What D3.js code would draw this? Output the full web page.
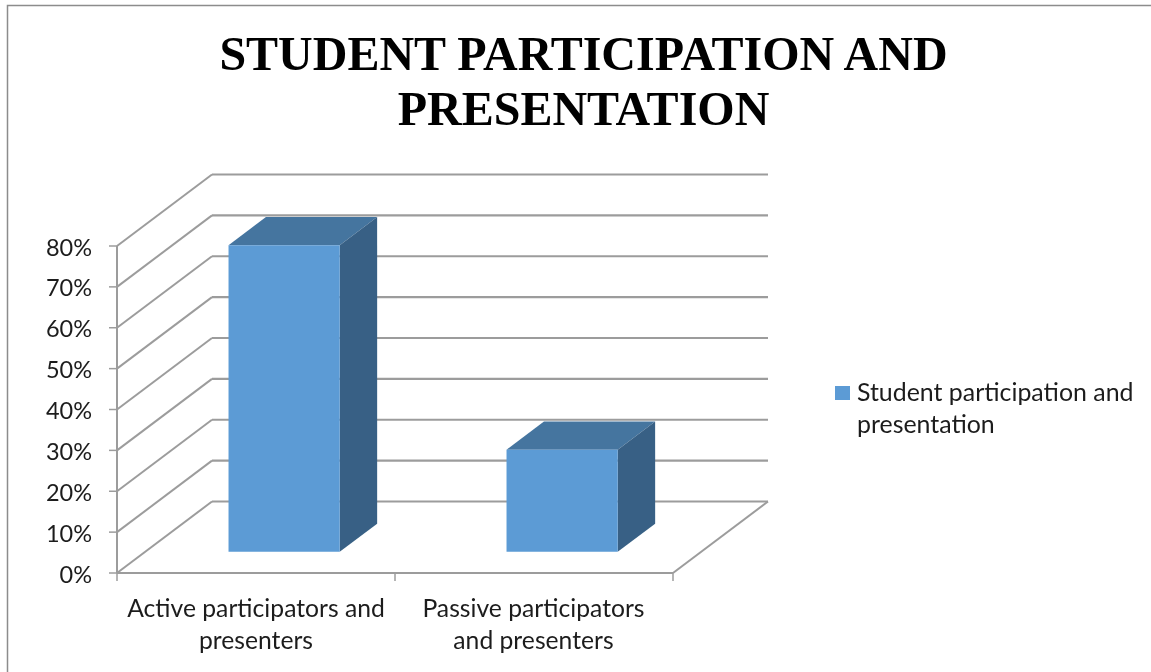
<!DOCTYPE html>
<html><head><meta charset="utf-8">
<script src="https://cdn.jsdelivr.net/npm/d3@7"></script>
<style>html,body{margin:0;background:#fff}svg{display:block}text{font-family:Lato,"Noto Sans",sans-serif;fill:#1c1c1c}</style>
</head><body><svg id="c" width="1151" height="672"></svg>
<script>
const categories=[["Active participators and","presenters"],["Passive participators","and presenters"]];
const values=[0.75,0.25];
const ticks=[0,0.1,0.2,0.3,0.4,0.5,0.6,0.7,0.8];
const titleLines=["STUDENT PARTICIPATION AND","PRESENTATION"];
const legendLines=["Student participation and","presentation"];
const svg=d3.select("#c");
const defs=svg.append("defs");
defs.append("filter").attr("id","soft").attr("x","-5%").attr("y","-5%").attr("width","110%").attr("height","110%")
  .append("feGaussianBlur").attr("stdDeviation",0.5);
const root=svg.append("g").attr("filter","url(#soft)");
const grid="#9c9c9c";
root.append("path").attr("d","M7.5,672V5.5H1151").attr("fill","none").attr("stroke","#8c8c8c").attr("stroke-width",1.5);
const x=d3.scaleBand().domain(d3.range(values.length)).range([117,673]).paddingInner(0.6).paddingOuter(0.3);
const step=x.step();
const y=d3.scaleLinear().domain([0,0.8]).range([573,246]);
const off=t=>[95*t,-71.5*t];
const P=(px,v,t)=>[px+off(t)[0],y(v)+off(t)[1]];
const line=d3.line();
ticks.forEach(t=>{
  root.append("path").attr("d",line([P(117,t,0),P(117,t,1)])).attr("fill","none").attr("stroke",grid).attr("stroke-width",2);
  root.append("path").attr("d",line([P(117,t,1),P(673,t,1)])).attr("fill","none").attr("stroke",grid).attr("stroke-width",2.2);
});
root.append("path").attr("d",line([P(673,0,0),P(673,0,1)])).attr("fill","none").attr("stroke",grid).attr("stroke-width",2);
root.append("path").attr("d",line([P(117,0,0),P(117,0.8,0)])).attr("fill","none").attr("stroke",grid).attr("stroke-width",2);
root.append("path").attr("d",line([P(117,0,0),P(673,0,0)])).attr("fill","none").attr("stroke",grid).attr("stroke-width",2.2);
ticks.forEach(t=>{
  root.append("line").attr("x1",109).attr("x2",117).attr("y1",y(t)).attr("y2",y(t)).attr("stroke",grid).attr("stroke-width",1.5);
  root.append("text").attr("x",92).attr("y",y(t)+9.5).attr("text-anchor","end").attr("font-size",23.5).text(d3.format(".0%")(t));
});
[0,1,2].forEach(i=>{
  const px=117+i*step;
  root.append("line").attr("x1",px).attr("x2",px).attr("y1",573).attr("y2",581).attr("stroke",grid).attr("stroke-width",1.5);
});
const d0=0.296,d1=0.69;
values.forEach((v,i)=>{
  const l=x(i),r=l+x.bandwidth();
  const g=root.append("g");
  g.append("path").attr("fill","#44749f").attr("d",line([P(l,v,d0),P(r,v,d0),P(r,v,d1),P(l,v,d1)])+"Z");
  g.append("path").attr("fill","#386185").attr("d",line([P(r,0,d0),P(r,v,d0),P(r,v,d1),P(r,0,d1)])+"Z");
  g.append("path").attr("fill","#5b9bd5").attr("d",line([P(l,0,d0),P(r,0,d0),P(r,v,d0),P(l,v,d0)])+"Z");
});
categories.forEach((c,i)=>{
  const cx=117+(i+0.5)*step;
  c.forEach((s,j)=>root.append("text").attr("x",cx+(i?-0.5:0)).attr("y",617+j*32).attr("text-anchor","middle").attr("font-size",24.7).text(s));
});
titleLines.forEach((s,j)=>root.append("text").attr("x",583.5).attr("y",70+j*55).attr("text-anchor","middle")
  .style("font-family","'Liberation Serif',serif").style("fill","#000").attr("font-weight","bold").attr("font-size",48).text(s));
root.append("rect").attr("x",835).attr("y",386).attr("width",15).attr("height",14).attr("fill","#5b9bd5");
legendLines.forEach((s,j)=>root.append("text").attr("x",857).attr("y",401+j*32).attr("font-size",24.9).text(s));
</script></body></html>
